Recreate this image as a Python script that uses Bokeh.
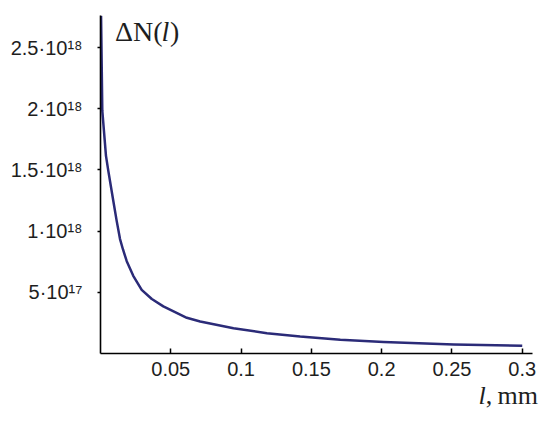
from bokeh.plotting import figure
from bokeh.models import FixedTicker, Range1d, Label, Div
from bokeh.layouts import column
from bokeh.embed import file_html
from bokeh.resources import INLINE

# l in mm, ΔN in units of 1e18
l_mm = [0.0004, 0.00128, 0.0039, 0.00556, 0.00912, 0.01154, 0.01389, 0.016,
        0.01866, 0.0233, 0.0293, 0.0365, 0.0447, 0.0614, 0.0709, 0.0946,
        0.1184, 0.142, 0.1706, 0.2014, 0.2513, 0.30]
dN_e18 = [2.76, 1.984, 1.615, 1.492, 1.246, 1.082, 0.935, 0.85,
          0.754, 0.635, 0.52, 0.445, 0.385, 0.292, 0.262, 0.207,
          0.166, 0.138, 0.112, 0.093, 0.074, 0.063]

x_ticks = [0.05, 0.1, 0.15, 0.2, 0.25, 0.3]
x_tick_labels = ["0.05", "0.1", "0.15", "0.2", "0.25", "0.3"]
y_ticks = [0.5, 1.0, 1.5, 2.0, 2.5]
y_tick_labels = ["5·10¹⁷", "1·10¹⁸", "1.5·10¹⁸", "2·10¹⁸", "2.5·10¹⁸"]

p = figure(width=540, height=383, output_backend="svg", toolbar_location=None,
           x_range=Range1d(0, 0.3073), y_range=Range1d(0, 2.762),
           min_border_left=100, min_border_right=8, min_border_top=15,
           min_border_bottom=30, x_axis_location="below", y_axis_location="left")
p.outline_line_color = None
p.xgrid.visible = False
p.ygrid.visible = False
p.background_fill_color = "white"

p.line(l_mm, dN_e18, line_color="#2b2b78", line_width=2.5, line_join="round")

for ax in (p.xaxis[0], p.yaxis[0]):
    ax.axis_line_color = "black"
    ax.axis_line_width = 1.6
    ax.major_tick_line_color = "black"
    ax.major_tick_line_width = 1.5
    ax.minor_tick_line_color = None
    ax.major_label_text_font = "Liberation Sans"
    ax.major_label_text_font_size = "20px"
    ax.major_label_text_color = "#1e1e1e"

xa = p.xaxis[0]
xa.ticker = FixedTicker(ticks=x_ticks)
xa.major_label_overrides = {t: s for t, s in zip(x_ticks, x_tick_labels)}
xa.major_tick_in = 5
xa.major_tick_out = 0
xa.major_label_standoff = 8

ya = p.yaxis[0]
ya.ticker = FixedTicker(ticks=y_ticks)
ya.major_label_overrides = {t: s for t, s in zip(y_ticks, y_tick_labels)}
ya.major_tick_in = 0
ya.major_tick_out = 3
ya.major_label_standoff = 15

serif = "Liberation Serif"
fs = "28px"
# y title (inside frame, top-left)
p.add_layout(Label(x=0.0103, y=2.762, text="ΔN(", text_baseline="top",
                   text_font=serif, text_font_size=fs, text_color="#1e1e1e"))
p.add_layout(Label(x=0.0103, y=2.762, x_offset=46.5, text="l", text_baseline="top",
                   text_font=serif, text_font_size=fs, text_font_style="italic",
                   text_color="#1e1e1e"))
p.add_layout(Label(x=0.0103, y=2.762, x_offset=55, text=")", text_baseline="top",
                   text_font=serif, text_font_size=fs, text_color="#1e1e1e"))

# x title below the plot, right aligned
xtitle = Div(text="<i>l</i>,&thinsp;mm", width=540, height=30, margin=0,
             styles={"text-align": "right", "font-family": "'Liberation Serif'",
                     "font-size": "26px", "line-height": "26px",
                     "color": "#1e1e1e", "padding-right": "2px",
                     "box-sizing": "border-box", "display": "block"})

layout = column(p, xtitle, spacing=0)
open("out.html", "w").write(file_html(layout, INLINE))
